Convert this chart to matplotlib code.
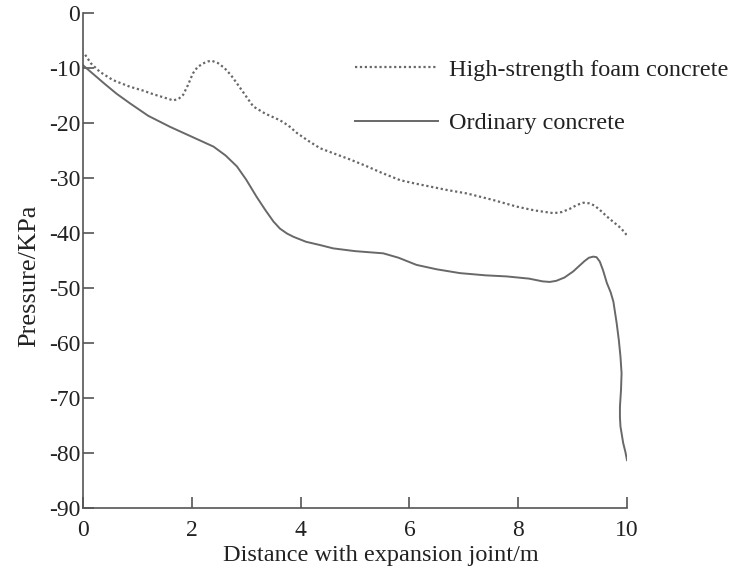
import matplotlib
matplotlib.use("Agg")
import matplotlib.pyplot as plt

plt.rcParams['font.family'] = ['Liberation Serif', 'DejaVu Serif']

# High-strength foam concrete (dotted)
foam_x = [0.04, 0.15, 0.31, 0.55, 0.86, 1.1, 1.3, 1.5, 1.66, 1.76, 1.84, 1.93, 2.02, 2.1, 2.2, 2.3,
          2.37, 2.48, 2.6, 2.72, 2.83, 2.98, 3.13, 3.35, 3.62, 3.78, 3.93, 4.15, 4.36, 4.6, 4.9, 5.2,
          5.5, 5.83, 6.1, 6.4, 6.7, 7.05, 7.5, 7.97, 8.3, 8.65, 8.8, 8.95, 9.08, 9.2, 9.3, 9.4,
          9.5, 9.63, 9.75, 9.85, 9.94, 10.02]
foam_y = [-7.6, -9.2, -10.7, -12.2, -13.4, -14.1, -14.8, -15.4, -15.9, -15.6, -14.9, -13.1, -11.0, -9.9, -9.2, -8.8,
          -8.7, -9.1, -10.0, -11.3, -12.8, -14.9, -17.0, -18.3, -19.5, -20.5, -21.8, -23.3, -24.6, -25.5, -26.6, -27.8,
          -29.1, -30.4, -31.0, -31.6, -32.2, -32.8, -33.9, -35.2, -35.9, -36.4, -36.2, -35.6, -34.9, -34.5, -34.6, -35.0,
          -35.8, -37.0, -38.0, -38.8, -39.7, -40.7]

# Ordinary concrete (solid)
ord_x = [0.0, 0.2, 0.4, 0.62, 0.86, 1.2, 1.6, 2.0, 2.4, 2.62, 2.83, 3.0, 3.19, 3.35, 3.5, 3.62, 3.75,
         3.87, 4.1, 4.36, 4.6, 5.0, 5.52, 5.8, 6.13, 6.5, 6.93, 7.4, 7.79, 8.2, 8.45, 8.58, 8.7, 8.85,
         9.01, 9.12, 9.22, 9.3, 9.38, 9.44, 9.5, 9.56, 9.63, 9.7, 9.75, 9.81, 9.85, 9.88, 9.9, 9.89,
         9.87, 9.87, 9.88, 9.9, 9.93, 9.97, 10.0]
ord_y = [-9.5, -11.2, -12.9, -14.7, -16.4, -18.7, -20.7, -22.5, -24.3, -25.9, -27.9, -30.3, -33.4, -35.8, -37.9, -39.2, -40.1,
         -40.7, -41.6, -42.2, -42.8, -43.3, -43.7, -44.5, -45.8, -46.6, -47.3, -47.7, -47.9, -48.3, -48.8, -48.9, -48.7, -48.1,
         -47.0, -46.0, -45.1, -44.5, -44.3, -44.4, -45.2, -46.8, -49.1, -50.8, -52.5, -56.4, -59.5, -62.5, -65.5, -68.5,
         -71.6, -73.5, -75.2, -76.4, -78.2, -79.8, -81.3]

x_ticks = [0, 2, 4, 6, 8, 10]
y_ticks = [0, -10, -20, -30, -40, -50, -60, -70, -80, -90]

line_color = '#686868'
spine_color = '#555555'
text_color = '#222222'

fig = plt.figure(figsize=(7.33, 5.74), dpi=100)
ax = fig.add_axes([0.1132, 0.115, 0.7422, 0.8624])

ax.plot(foam_x, foam_y, linestyle=(0, (1, 1.2)), color=line_color, lw=1.6,
        label='High-strength foam concrete')
ax.plot(ord_x, ord_y, linestyle='-', color=line_color, lw=1.4, label='Ordinary concrete')

ax.set_xlim(0, 10)
ax.set_ylim(-90, 0)
ax.set_xticks(x_ticks)
ax.set_yticks(y_ticks)
ax.set_xticklabels([str(v) for v in x_ticks])
ax.set_yticklabels([str(v) for v in y_ticks])

for s in ['top', 'right']:
    ax.spines[s].set_visible(False)
for s in ['left', 'bottom']:
    ax.spines[s].set_color(spine_color)
    ax.spines[s].set_linewidth(1.2)

ax.tick_params(axis='both', direction='in', length=8, width=1.2, color=spine_color,
               labelsize=17, labelcolor=text_color)
ax.tick_params(axis='x', pad=9)
ax.tick_params(axis='y', pad=2)

ax.set_xlabel('Distance with expansion joint/m', fontsize=17.5, color=text_color, labelpad=1)
ax.xaxis.set_label_coords(0.548, -0.075)
ax.set_ylabel('Pressure/KPa', fontsize=19, color=text_color, labelpad=6)
ax.yaxis.label.set_y(0.469)

leg = fig.legend(loc='upper left', bbox_to_anchor=(0.4843, 0.898), frameon=False,
                 fontsize=17.5, handlelength=3.4, handletextpad=0.45, labelspacing=1.3,
                 borderpad=0, borderaxespad=0, labelcolor=text_color)

fig.savefig('out.png', dpi=100)
